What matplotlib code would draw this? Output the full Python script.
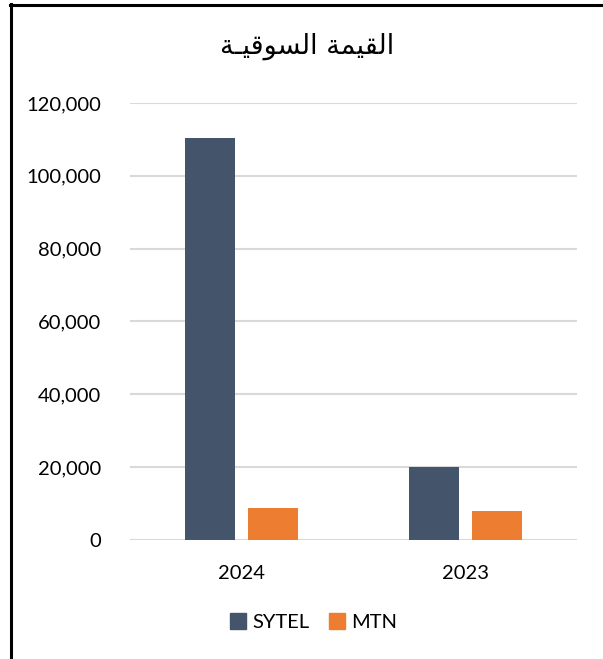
import numpy as np
import matplotlib.pyplot as plt
from matplotlib.lines import Line2D
from matplotlib.ticker import FuncFormatter

plt.rcParams['font.family'] = ['Lato', 'DejaVu Sans']

years = ["2024", "2023"]
sytel = [110400, 20100]
mtn = [8850, 7950]
series_names = ["SYTEL", "MTN"]
colors = ["#44546A", "#ED7D31"]
yticks = [0, 20000, 40000, 60000, 80000, 100000, 120000]

# "القيمة السوقيـة" in presentation forms, visual order (matplotlib has no shaping)
title = "\uFE94\u0640\uFEF4\uFED7\uFEEE\uFEB4\uFEDF\uFE8D \uFE94\uFEE4\uFEF4\uFED8\uFEDF\uFE8D"

fig = plt.figure(figsize=(6.03, 6.59), dpi=100)
ax = fig.add_axes([0.2156, 0.1806, 0.7413, 0.6631])

x = np.arange(len(years))
w = 0.224
off = 0.141
ax.bar(x - off, sytel, w, color=colors[0], zorder=3)
ax.bar(x + off, mtn, w, color=colors[1], zorder=3)

ax.set_xlim(-0.5, 1.5)
ax.set_ylim(0, 120000)
ax.set_yticks(yticks)
ax.yaxis.set_major_formatter(FuncFormatter(lambda v, p: f"{int(v):,}"))
ax.set_xticks(x)
ax.set_xticklabels(years)
ax.grid(axis='y', color='#d9d9d9', linewidth=1.5, zorder=0)
for s in ax.spines.values():
    s.set_visible(False)
ax.tick_params(length=0, labelsize=14.5, colors='#000000')
ax.tick_params(axis='y', pad=21)
ax.tick_params(axis='x', pad=18)

fig.text(0.51, 0.929, title, ha='center', va='center', fontsize=19.5,
         family='DejaVu Sans')

handles = [Line2D([], [], marker='s', linestyle='none', markersize=11,
                  color=c) for c in colors]
fig.legend(handles, series_names, loc='center', bbox_to_anchor=(0.52, 0.055),
           ncol=2, frameon=False, fontsize=14.5, handlelength=0.8,
           handletextpad=0.3, columnspacing=1.0)

# border lines visible on the top and left of the picture
fig.add_artist(Line2D([0.0182, 0.0182], [0, 0.994], color='black', lw=2.2,
                      transform=fig.transFigure))
fig.add_artist(Line2D([0.0165, 1.0], [0.993, 0.993], color='black', lw=2.2,
                      transform=fig.transFigure))

fig.savefig("out.png", dpi=100)
